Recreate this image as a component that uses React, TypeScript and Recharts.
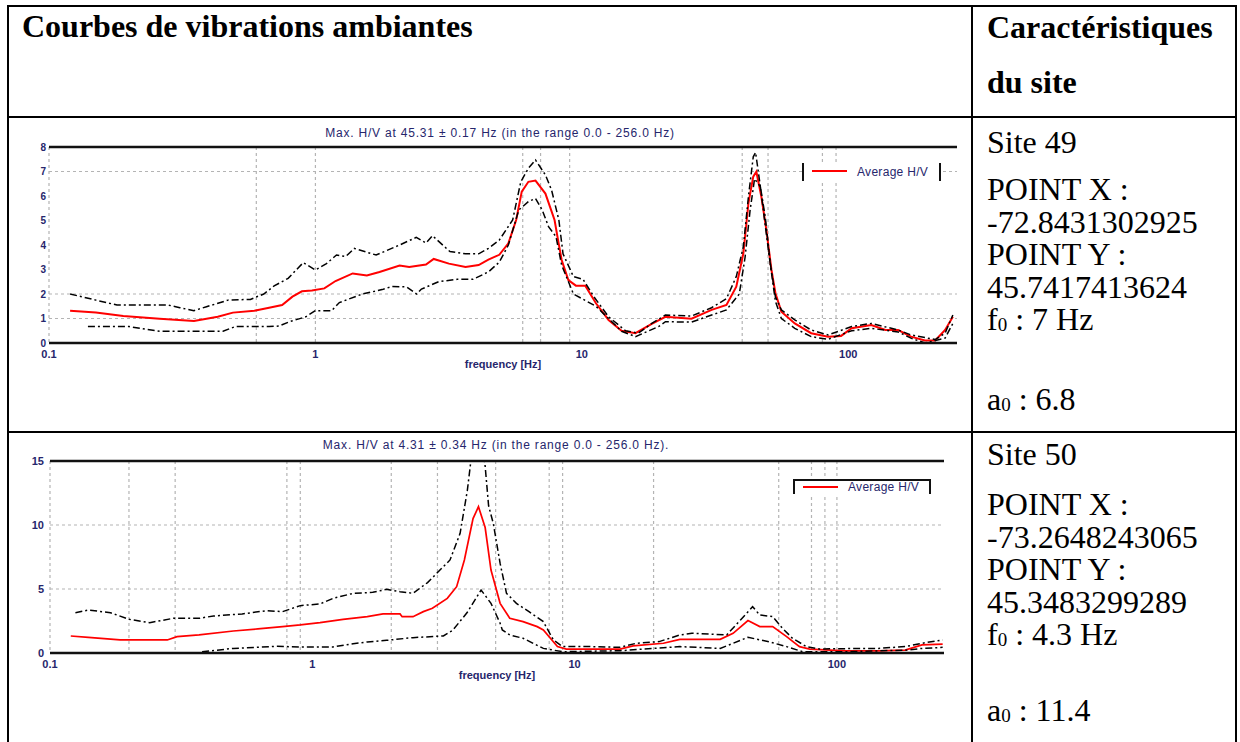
import React from 'react';
import { LineChart, Line, XAxis, YAxis, CartesianGrid, ReferenceLine } from 'recharts';

// ---------- table text ----------
const headerLeft = 'Courbes de vibrations ambiantes';
const headerRight1 = 'Caractéristiques';
const headerRight2 = 'du site';

const site49Lines = ['POINT X :', '-72.8431302925', 'POINT Y :', '45.7417413624'];
const site49Name = 'Site 49';
const site49F0 = '7 Hz';
const site49A0 = '6.8';
const site49Title = 'Max. H/V at 45.31 ± 0.17 Hz (in the range 0.0 - 256.0 Hz)';

const site50Lines = ['POINT X :', '-73.2648243065', 'POINT Y :', '45.3483299289'];
const site50Name = 'Site 50';
const site50F0 = '4.3 Hz';
const site50A0 = '11.4';
const site50Title = 'Max. H/V at 4.31 ± 0.34 Hz (in the range 0.0 - 256.0 Hz).';

const legendLabel = 'Average H/V';
const xAxisLabel = 'frequency [Hz]';

// ---------- axes ----------
const xTicks = [0.1, 1, 10, 100];
const xDomain = [0.1, 256];
const site49YTicks = [0, 1, 2, 3, 4, 5, 6, 7, 8];
const site50YTicks = [0, 5, 10, 15];
const site49GridFreqs = [0.1, 0.6, 1, 6, 7, 9, 40, 50, 80, 90];
const site49GridValues = [1, 2, 7];
const site50GridFreqs = [0.1, 0.2, 0.3, 0.8, 0.9, 2, 3, 5, 8, 9, 20, 60, 80, 90, 100];
const site50GridValues = [5, 10];

// ---------- Site 49 curves ----------
const avg49Freq = [0.12, 0.15, 0.19, 0.26, 0.35, 0.43, 0.49, 0.59, 0.67, 0.75, 0.82, 0.89, 0.97, 1.08, 1.19, 1.38, 1.56, 1.74, 2.07, 2.25, 2.6, 2.78, 3.17, 3.66, 4.1, 4.46, 4.9, 5.3, 5.67, 5.95, 6.3, 6.7, 7.3, 7.9, 8.1, 8.4, 8.9, 9.5, 10.3, 11.3, 12.6, 14.1, 15.9, 18.3, 20.6, 25.8, 30.7, 34.9, 38, 40.4, 42.2, 44, 45.2, 47.2, 49.3, 51.5, 53.3, 56.1, 63, 72.6, 84, 94, 103, 122, 138, 154, 172, 194, 212, 231, 247];
const avg49HV = [1.32, 1.24, 1.1, 0.99, 0.9, 1.07, 1.24, 1.32, 1.44, 1.55, 1.89, 2.11, 2.14, 2.23, 2.53, 2.84, 2.76, 2.9, 3.16, 3.1, 3.2, 3.43, 3.24, 3.1, 3.18, 3.4, 3.6, 4.07, 5.02, 6.18, 6.58, 6.63, 6.1, 5.02, 4.34, 3.39, 2.57, 2.34, 2.34, 1.62, 0.94, 0.5, 0.4, 0.78, 1.07, 0.99, 1.35, 1.55, 2.3, 3.66, 5.7, 6.79, 6.99, 5.97, 4.61, 2.98, 2.03, 1.28, 0.8, 0.4, 0.26, 0.29, 0.6, 0.73, 0.53, 0.53, 0.26, 0.1, 0.1, 0.53, 1.07];

const upper49Freq = [0.12, 0.15, 0.18, 0.28, 0.31, 0.35, 0.39, 0.47, 0.57, 0.64, 0.7, 0.79, 0.9, 1.0, 1.1, 1.2, 1.3, 1.4, 1.69, 2.07, 2.39, 2.6, 2.75, 3.2, 3.66, 4.1, 4.46, 4.9, 5.5, 5.9, 6.3, 6.7, 7.3, 7.7, 8.2, 8.5, 9.3, 10.1, 11.1, 12.6, 14.6, 16.3, 18.3, 20.6, 25.8, 30.7, 34.9, 38, 40.4, 42.2, 44, 44.9, 46.8, 48.8, 51, 53.3, 56.1, 63, 72.6, 84, 103, 122, 154, 172, 212, 231, 247];
const upper49HV = [2.0, 1.75, 1.55, 1.55, 1.44, 1.32, 1.48, 1.75, 1.78, 2.0, 2.33, 2.64, 3.28, 2.98, 3.24, 3.59, 3.53, 3.86, 3.59, 4.0, 4.31, 4.08, 4.38, 3.73, 3.64, 3.64, 3.86, 4.2, 5.02, 6.58, 7.13, 7.47, 6.86, 6.24, 5.02, 3.64, 2.71, 2.6, 1.89, 1.07, 0.5, 0.4, 0.8, 1.14, 1.1, 1.44, 1.81, 2.71, 3.94, 5.97, 7.6, 7.78, 6.38, 5.15, 3.24, 1.89, 1.35, 0.94, 0.53, 0.33, 0.67, 0.8, 0.53, 0.33, 0.14, 0.4, 1.14];

const lower49Freq = [0.14, 0.2, 0.23, 0.26, 0.31, 0.4, 0.45, 0.5, 0.67, 0.73, 0.8, 0.92, 1.0, 1.15, 1.23, 1.5, 1.78, 1.94, 2.2, 2.4, 2.5, 2.9, 3.4, 3.9, 4.46, 4.9, 5.3, 5.8, 6.3, 6.7, 7.1, 7.5, 8.0, 8.4, 9.3, 11.3, 14.1, 15.9, 19.4, 20.6, 25.8, 30.7, 34.9, 39, 41, 42.8, 44.5, 46.8, 48.8, 51, 53.3, 56.1, 63, 72.6, 84, 103, 122, 154, 172, 194, 231, 247];
const lower49HV = [0.67, 0.67, 0.57, 0.48, 0.48, 0.48, 0.48, 0.67, 0.67, 0.69, 0.87, 1.07, 1.32, 1.32, 1.65, 2.0, 2.18, 2.31, 2.29, 2.0, 2.2, 2.5, 2.6, 2.6, 2.9, 3.3, 4.0, 5.43, 5.77, 5.9, 5.43, 4.75, 4.34, 3.18, 2.0, 1.5, 0.48, 0.26, 0.67, 0.87, 0.85, 1.14, 1.35, 2.0, 3.5, 5.4, 6.7, 6.38, 4.8, 3.2, 1.7, 1.0, 0.6, 0.26, 0.15, 0.5, 0.6, 0.45, 0.2, 0.0, 0.2, 0.8];

// ---------- Site 50 curves ----------
const avg50Freq = [0.12, 0.14, 0.185, 0.28, 0.305, 0.37, 0.5, 0.62, 0.77, 0.9, 1.07, 1.31, 1.62, 1.86, 2.16, 2.2, 2.42, 2.65, 2.87, 3.27, 3.55, 3.8, 4.1, 4.3, 4.56, 4.8, 5.2, 5.66, 6.36, 7.2, 7.6, 8.6, 9.3, 14.9, 16.7, 21.8, 25.2, 35.9, 40.2, 45.8, 50.8, 56.9, 64.3, 72, 78.8, 108, 144, 182, 211, 253];
const avg50HV = [1.33, 1.22, 1.02, 1.02, 1.28, 1.41, 1.72, 1.88, 2.06, 2.19, 2.37, 2.63, 2.84, 3.05, 3.05, 2.84, 2.84, 3.23, 3.49, 4.27, 5.18, 7.27, 10.5, 11.43, 9.8, 6.48, 3.88, 2.71, 2.45, 2.06, 1.8, 0.5, 0.31, 0.31, 0.55, 0.76, 1.07, 1.07, 1.54, 2.53, 2.06, 2.06, 1.28, 0.5, 0.31, 0.16, 0.16, 0.23, 0.63, 0.7];

const upper50Freq = [0.125, 0.14, 0.17, 0.2, 0.24, 0.295, 0.37, 0.42, 0.54, 0.67, 0.77, 0.9, 1.07, 1.2, 1.43, 1.7, 1.92, 2.16, 2.42, 2.75, 2.98, 3.35, 3.66, 3.9, 4.05, 4.3, 4.5, 4.56, 4.7, 4.9, 5.2, 5.5, 6.0, 6.7, 7.6, 8.3, 9.0, 11.4, 14.9, 17.2, 21, 25.2, 28, 38, 42.9, 47.7, 50.8, 56.9, 62, 67.7, 76.5, 85.8, 125, 144, 182, 211, 253];
const upper50HV = [3.15, 3.36, 3.15, 2.63, 2.37, 2.71, 2.71, 2.89, 3.05, 3.31, 3.23, 3.7, 3.83, 4.27, 4.66, 4.74, 4.97, 4.79, 4.66, 5.5, 6.22, 7.27, 9.35, 12.7, 15.5, 17.5, 15.5, 14.6, 11.5, 10.1, 7.0, 4.66, 3.88, 3.23, 2.45, 1.02, 0.5, 0.5, 0.44, 0.76, 0.89, 1.41, 1.54, 1.41, 2.58, 3.62, 2.97, 2.84, 1.93, 1.15, 0.5, 0.31, 0.36, 0.36, 0.5, 0.76, 1.02];

const lower50Freq = [0.38, 0.5, 0.73, 0.9, 1.2, 1.43, 1.62, 1.92, 2.42, 3.16, 3.43, 3.9, 4.4, 4.8, 5.2, 5.3, 5.66, 6.36, 7.6, 9.0, 14.9, 25.2, 35.9, 40.2, 45.8, 55.4, 64.3, 74, 108, 188, 211, 253];
const lower50HV = [0.1, 0.36, 0.52, 0.47, 0.47, 0.73, 0.86, 0.99, 1.2, 1.33, 1.77, 3.18, 4.92, 3.88, 2.32, 1.8, 1.41, 1.15, 0.36, 0.1, 0.18, 0.5, 0.36, 0.76, 1.23, 0.86, 0.5, 0.1, 0.1, 0.23, 0.36, 0.44];

const zip = (f: number[], v: number[]) => f.map((x, i) => ({ f: x, v: v[i] }));

const SERIF = '"Liberation Serif","Times New Roman",serif';
const SANS = '"Liberation Sans",Arial,sans-serif';
const INK = '#26266c';

type ChartProps = {
  top: number;
  height: number;
  margin: { top: number; right: number; bottom: number; left: number };
  yMax: number;
  yTicks: number[];
  gridFreqs: number[];
  gridValues: number[];
  avg: { f: number; v: number }[];
  upper: { f: number; v: number }[];
  lower: { f: number; v: number }[];
  yTickMargin: number;
  yTickSize: number;
  xTickMargin: number;
  labelOffset: number;
  redWidth: number;
};

function HVChart(p: ChartProps) {
  const tickStyle = { fontSize: 11, fill: INK, fontWeight: 700, fontFamily: SANS };
  const yTickStyle = { ...tickStyle, fontSize: p.yTickSize };
  return (
    <div style={{ position: 'absolute', left: 0, top: p.top }}>
      <LineChart width={980} height={p.height} margin={p.margin}>
        <CartesianGrid
          verticalValues={p.gridFreqs}
          horizontalValues={p.gridValues}
          stroke="#b4b4b4"
          strokeDasharray="3 3"
          strokeWidth={1.2}
        />
        <XAxis
          dataKey="f"
          type="number"
          scale="log"
          domain={xDomain}
          allowDataOverflow
          ticks={xTicks}
          tickFormatter={(v: number) => String(v)}
          height={30}
          tickLine={false}
          axisLine={false}
          tickSize={0}
          tickMargin={p.xTickMargin}
          tick={tickStyle}
          interval={0}
          label={{
            value: xAxisLabel,
            position: 'insideBottom',
            offset: p.labelOffset,
            style: { fontSize: 11, fill: INK, fontFamily: SANS, fontWeight: 700 },
          }}
        />
        <YAxis
          type="number"
          domain={[0, p.yMax]}
          ticks={p.yTicks}
          allowDataOverflow
          width={40}
          tickLine={false}
          axisLine={false}
          tickSize={0}
          tickMargin={p.yTickMargin}
          tick={yTickStyle}
          interval={0}
        />
        <Line data={p.avg} dataKey="v" type="linear" stroke="#ff0000" strokeWidth={p.redWidth} dot={false} isAnimationActive={false} />
        <Line data={p.upper} dataKey="v" type="linear" stroke="#000" strokeWidth={1.5} strokeDasharray="7 3 2 3" dot={false} isAnimationActive={false} />
        <Line data={p.lower} dataKey="v" type="linear" stroke="#000" strokeWidth={1.5} strokeDasharray="7 3 2 3" dot={false} isAnimationActive={false} />
        <ReferenceLine y={p.yMax} stroke="#111" strokeWidth={2.5} />
        <ReferenceLine y={0} stroke="#111" strokeWidth={2.5} />
      </LineChart>
    </div>
  );
}

// positions a text line by its baseline (Liberation Serif ascent 0.891, descent 0.216)
const TextLine = ({ x, baseline, size = 32, lh = 28, bold = false, children }: any) => (
  <div
    style={{
      position: 'absolute',
      left: x,
      top: baseline - 0.891 * size - (lh - 1.107 * size) / 2,
      fontSize: size,
      lineHeight: `${lh}px`,
      height: lh,
      fontFamily: SERIF,
      fontWeight: bold ? 700 : 400,
      whiteSpace: 'nowrap',
      color: '#000',
    }}
  >
    {children}
  </div>
);

const Sub0 = () => (
  <span style={{ fontSize: 19, lineHeight: '10px', position: 'relative', top: 1 }}>0</span>
);

const Rule = ({ l, t, w, h }: { l: number; t: number; w: number; h: number }) => (
  <div style={{ position: 'absolute', left: l, top: t, width: w, height: h, background: '#000' }} />
);

const ChartTitle = ({ cx, cy, text }: { cx: number; cy: number; text: string }) => (
  <div
    style={{
      position: 'absolute',
      left: cx - 250,
      width: 500,
      top: cy - 7,
      height: 14,
      lineHeight: '14px',
      textAlign: 'center',
      fontSize: 12,
      letterSpacing: 0.8,
      fontFamily: SANS,
      color: INK,
      whiteSpace: 'nowrap',
    }}
  >
    {text}
  </div>
);

const LegendBox = ({ left, top, width, height, topBorder }: any) => (
  <div
    style={{
      position: 'absolute',
      left,
      top,
      width,
      height,
      boxSizing: 'border-box',
      borderLeft: '2px solid #111',
      borderRight: '2px solid #111',
      borderTop: topBorder ? '2px solid #111' : 'none',
      background: '#fff',
    }}
  >
    <div
      style={{
        position: 'absolute',
        left: 8,
        top: height / 2 - (topBorder ? 2 : 1) - 1,
        width: 35,
        height: 2,
        background: '#ff0000',
      }}
    />
    <div
      style={{
        position: 'absolute',
        left: 53,
        top: height / 2 - (topBorder ? 2 : 0) - 7,
        lineHeight: '14px',
        fontSize: 12,
        letterSpacing: 0.3,
        fontFamily: SANS,
        color: INK,
        whiteSpace: 'nowrap',
      }}
    >
      {legendLabel}
    </div>
  </div>
);

export default function App() {
  const pitch = 32.5;
  return (
    <div
      style={{
        position: 'absolute',
        left: 0,
        top: 0,
        width: 1240,
        height: 742,
        overflow: 'hidden',
        background: '#fff',
      }}
    >
      {/* charts */}
      <HVChart
        top={117}
        height={313}
        margin={{ top: 30, right: 23, bottom: 57, left: 9 }}
        yMax={8}
        yTicks={site49YTicks}
        gridFreqs={site49GridFreqs}
        gridValues={site49GridValues}
        avg={zip(avg49Freq, avg49HV)}
        upper={zip(upper49Freq, upper49HV)}
        lower={zip(lower49Freq, lower49HV)}
        yTickMargin={3}
        yTickSize={10}
        xTickMargin={7}
        labelOffset={5}
        redWidth={2}
      />
      <HVChart
        top={431}
        height={311}
        margin={{ top: 30, right: 36, bottom: 59, left: 10 }}
        yMax={15}
        yTicks={site50YTicks}
        gridFreqs={site50GridFreqs}
        gridValues={site50GridValues}
        avg={zip(avg50Freq, avg50HV)}
        upper={zip(upper50Freq, upper50HV)}
        lower={zip(lower50Freq, lower50HV)}
        yTickMargin={6}
        yTickSize={11}
        xTickMargin={7}
        labelOffset={4.5}
        redWidth={1.7}
      />
      <ChartTitle cx={500} cy={133} text={site49Title} />
      <ChartTitle cx={496} cy={445} text={site50Title} />
      <LegendBox left={802} top={163} width={139} height={18} topBorder={false} />
      <LegendBox left={793} top={479} width={138} height={15} topBorder={true} />

      {/* table rules */}
      <Rule l={7} t={5} w={1230} h={2} />
      <Rule l={7} t={5} w={2} h={737} />
      <Rule l={1235} t={5} w={2} h={737} />
      <Rule l={971} t={5} w={2} h={737} />
      <Rule l={7} t={116} w={1230} h={2} />
      <Rule l={7} t={431} w={1230} h={2} />

      {/* header */}
      <TextLine x={22} baseline={37} bold>{headerLeft}</TextLine>
      <TextLine x={987} baseline={38} bold>{headerRight1}</TextLine>
      <TextLine x={987} baseline={93} bold>{headerRight2}</TextLine>

      {/* site 49 */}
      <TextLine x={987} baseline={153}>{site49Name}</TextLine>
      {site49Lines.map((s, i) => (
        <TextLine key={s + i} x={987} baseline={200 + i * pitch}>{s}</TextLine>
      ))}
      <TextLine x={987} baseline={200 + 4 * pitch}>f<Sub0 /> : {site49F0}</TextLine>
      <TextLine x={987} baseline={410}>a<Sub0 /> : {site49A0}</TextLine>

      {/* site 50 */}
      <TextLine x={987} baseline={465}>{site50Name}</TextLine>
      {site50Lines.map((s, i) => (
        <TextLine key={s + i} x={987} baseline={515 + i * pitch}>{s}</TextLine>
      ))}
      <TextLine x={987} baseline={515 + 4 * pitch}>f<Sub0 /> : {site50F0}</TextLine>
      <TextLine x={987} baseline={721}>a<Sub0 /> : {site50A0}</TextLine>
    </div>
  );
}
